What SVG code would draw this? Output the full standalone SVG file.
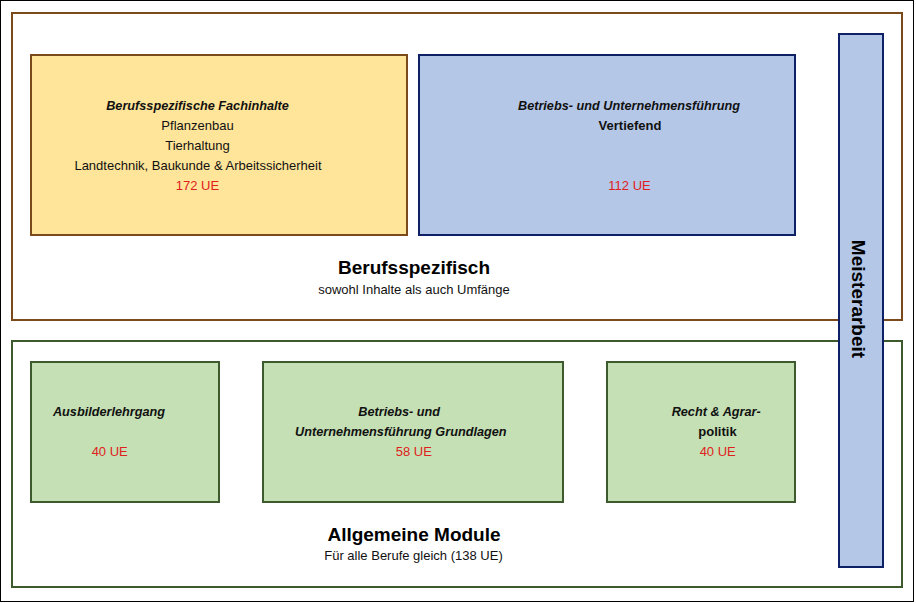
<svg xmlns="http://www.w3.org/2000/svg" width="916" height="603" viewBox="0 0 916 603">
<style>
text{font-family:"Liberation Sans",Arial,sans-serif;fill:#111;}
.t{font-size:13px;text-anchor:middle;}
.bi{font-weight:bold;font-style:italic;font-size:12.7px;}
.b{font-weight:bold;}
.red{fill:#E0201C;}
.big{font-size:19px;font-weight:bold;text-anchor:middle;fill:#000;}
.brown{fill:none;stroke:#7A4A1C;stroke-width:2;}
.yellow{fill:#FFE599;stroke:#7A4A1C;stroke-width:2;}
.blue{fill:#B4C7E7;stroke:#0E2166;stroke-width:2;}
.gframe{fill:none;stroke:#3D5A2C;stroke-width:2;}
.green{fill:#C5E0B4;stroke:#3D5A2C;stroke-width:2;}
</style>
<rect x="0" y="0" width="916" height="603" fill="#fff"/>
<rect x="0.5" y="0.5" width="913" height="601" fill="none" stroke="#000" stroke-width="1"/>
<g id="berufsspezifisch">
<rect class="brown" x="12" y="13" width="890" height="307"/>
<text class="big" x="414" y="274">Berufsspezifisch</text>
<text class="t" x="414" y="294">sowohl Inhalte als auch Umfänge</text>
</g>
<g id="allgemeine">
<rect class="gframe" x="12" y="341" width="890" height="246"/>
<text class="big" x="414" y="541">Allgemeine Module</text>
<text class="t" x="413.5" y="560">Für alle Berufe gleich (138 UE)</text>
</g>
<g id="fachinhalte">
<rect class="yellow" x="31" y="55" width="376" height="180"/>
<text class="t bi" x="197.5" y="110">Berufsspezifische Fachinhalte</text>
<text class="t" x="197.5" y="130">Pflanzenbau</text>
<text class="t" x="197.5" y="150">Tierhaltung</text>
<text class="t" x="198" y="170">Landtechnik, Baukunde &amp; Arbeitssicherheit</text>
<text class="t red" x="197.5" y="190">172 UE</text>
</g>
<g id="vertiefend">
<rect class="blue" x="419" y="55" width="376" height="180"/>
<text class="t bi" x="629" y="110">Betriebs- und Unternehmensführung</text>
<text class="t b" x="630" y="130">Vertiefend</text>
<text class="t red" x="629.5" y="190">112 UE</text>
</g>
<g id="ausbilder">
<rect class="green" x="31" y="362" width="188" height="140"/>
<text class="t bi" x="109" y="416">Ausbilderlehrgang</text>
<text class="t red" x="109.7" y="456">40 UE</text>
</g>
<g id="grundlagen">
<rect class="green" x="263" y="362" width="300" height="140"/>
<text class="t bi" x="399.2" y="416">Betriebs- und</text>
<text class="t bi" x="400.8" y="436">Unternehmensführung Grundlagen</text>
<text class="t red" x="413.8" y="456">58 UE</text>
</g>
<g id="recht">
<rect class="green" x="607" y="362" width="188" height="140"/>
<text class="t bi" x="716.2" y="416">Recht &amp; Agrar-</text>
<text class="t b" x="717.5" y="436">politik</text>
<text class="t red" x="717.7" y="456">40 UE</text>
</g>
<g id="meisterarbeit">
<rect class="blue" x="839" y="34" width="44" height="533"/>
<text class="big" transform="translate(852,299) rotate(90)" x="0" y="0">Meisterarbeit</text>
</g>
<g id="connectors"></g>
</svg>
